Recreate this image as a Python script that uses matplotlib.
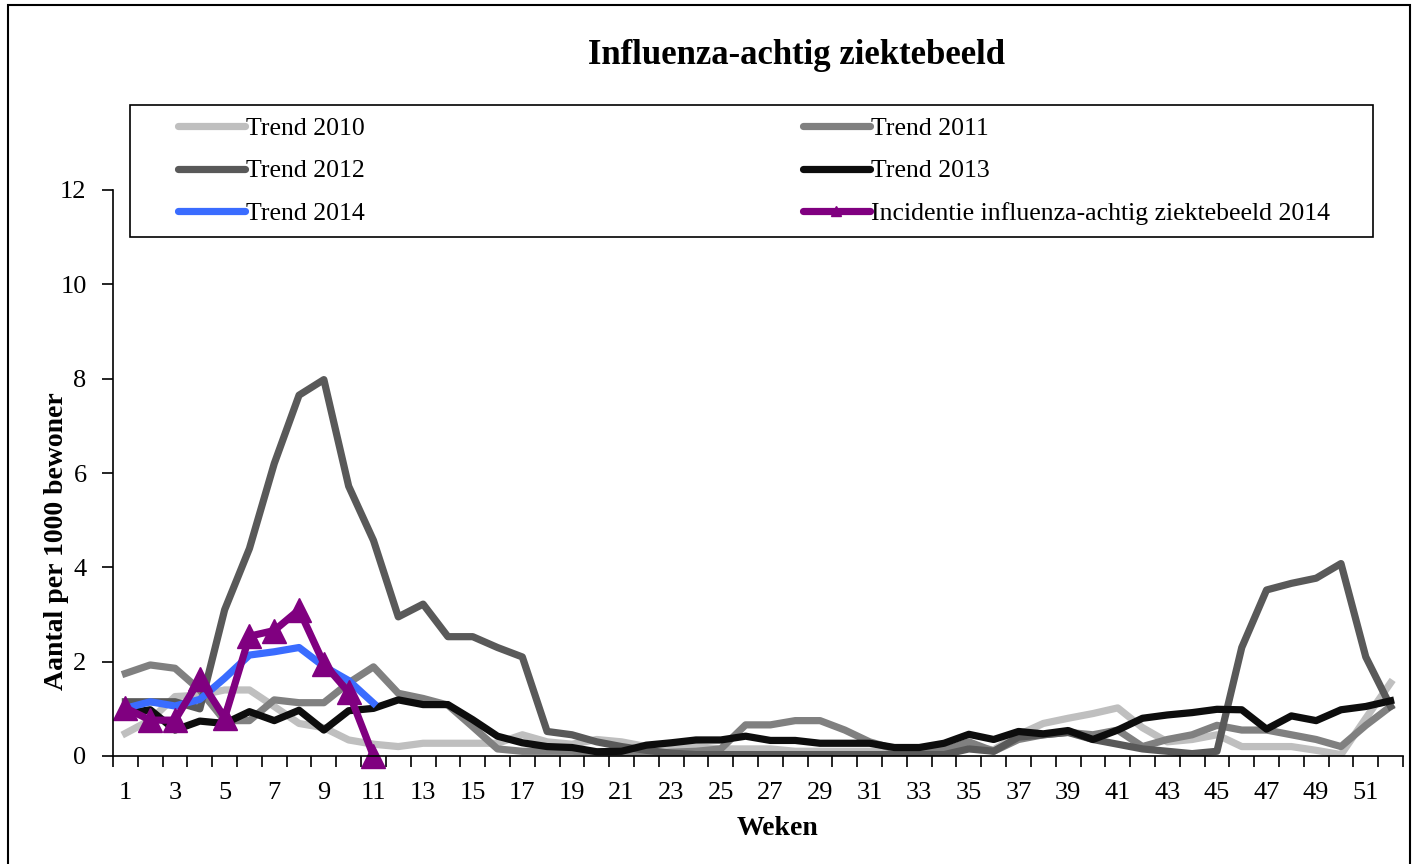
import numpy as np
import matplotlib
matplotlib.use("Agg")
import matplotlib.pyplot as plt
from matplotlib.patches import Rectangle

plt.rcParams['font.family'] = ['Liberation Serif', 'DejaVu Serif']

weeks = list(range(1, 53))

trend_2010 = [0.48, 0.76, 1.26, 1.29, 1.40, 1.40, 1.05, 0.69, 0.60, 0.34,
              0.25, 0.20, 0.27, 0.27, 0.27, 0.27, 0.45, 0.30, 0.25, 0.35,
              0.30, 0.20, 0.20, 0.20, 0.15, 0.15, 0.15, 0.10, 0.10, 0.10,
              0.10, 0.10, 0.10, 0.15, 0.20, 0.13, 0.45, 0.69, 0.80, 0.90,
              1.02, 0.60, 0.30, 0.35, 0.45, 0.20, 0.20, 0.20, 0.12, 0.03,
              0.80, 1.55]
trend_2011 = [1.75, 1.93, 1.86, 1.40, 0.75, 0.75, 1.19, 1.13, 1.13, 1.55,
              1.89, 1.33, 1.22, 1.08, 0.62, 0.15, 0.10, 0.10, 0.10, 0.08,
              0.05, 0.05, 0.08, 0.10, 0.15, 0.66, 0.66, 0.75, 0.75, 0.55,
              0.30, 0.15, 0.12, 0.12, 0.30, 0.10, 0.35, 0.45, 0.50, 0.45,
              0.55, 0.20, 0.35, 0.45, 0.65, 0.55, 0.55, 0.45, 0.35, 0.20,
              0.65, 1.05]
trend_2012 = [1.15, 1.15, 1.15, 1.00, 3.10, 4.40, 6.20, 7.65, 7.98, 5.72,
              4.57, 2.95, 3.22, 2.53, 2.53, 2.30, 2.10, 0.52, 0.45, 0.30,
              0.20, 0.12, 0.06, 0.03, 0.03, 0.03, 0.03, 0.03, 0.03, 0.03,
              0.03, 0.03, 0.03, 0.03, 0.15, 0.10, 0.40, 0.45, 0.50, 0.35,
              0.25, 0.15, 0.10, 0.05, 0.10, 2.30, 3.52, 3.66, 3.77, 4.08,
              2.10, 1.05]
trend_2013 = [0.90, 0.98, 0.55, 0.74, 0.69, 0.94, 0.75, 0.97, 0.55, 0.96,
              1.01, 1.19, 1.09, 1.09, 0.77, 0.42, 0.28, 0.20, 0.18, 0.09,
              0.10, 0.23, 0.28, 0.34, 0.34, 0.42, 0.33, 0.33, 0.27, 0.27,
              0.27, 0.18, 0.18, 0.27, 0.46, 0.35, 0.52, 0.47, 0.54, 0.35,
              0.55, 0.80, 0.87, 0.92, 0.99, 0.98, 0.57, 0.85, 0.75, 0.98,
              1.05, 1.17]
trend_2014 = [1.01, 1.15, 1.06, 1.20, 1.65, 2.14, 2.21, 2.30, 1.90, 1.60, 1.12]
incidentie_2014 = [1.02, 0.76, 0.76, 1.63, 0.81, 2.54, 2.66, 3.10, 1.96, 1.35, 0.0]

fig = plt.figure(figsize=(14.18, 8.64), dpi=100)
ax = fig.add_axes([113/1418, 1-756/864, 1290/1418, 566/864])

lw = 5.2
h10, = ax.plot(weeks, trend_2010, color='#bfbfbf', lw=lw, label='Trend 2010')
h11, = ax.plot(weeks, trend_2011, color='#808080', lw=lw, label='Trend 2011')
h12, = ax.plot(weeks, trend_2012, color='#595959', lw=lw, label='Trend 2012')
h13, = ax.plot(weeks, trend_2013, color='#0d0d0d', lw=lw, label='Trend 2013')
h14, = ax.plot(weeks[:len(trend_2014)], trend_2014, color='#3a6cff', lw=lw,
               label='Trend 2014')
hin, = ax.plot(weeks[:len(incidentie_2014)], incidentie_2014, color='#800080',
               lw=lw, marker='^', markersize=17, markeredgewidth=1,
               label='Incidentie influenza-achtig ziektebeeld 2014', clip_on=False)

ax.set_xlim(0.5, 52.5)
ax.set_ylim(0, 12)
for s in ['top', 'right']:
    ax.spines[s].set_visible(False)
for s in ['left', 'bottom']:
    ax.spines[s].set_linewidth(1.2)

ax.set_xticks(np.arange(0.5, 53, 1))
ax.set_xticklabels([])
ax.set_xticks(weeks[::2], minor=True)
ax.set_xticklabels([str(w) for w in weeks[::2]], minor=True)
ax.tick_params(axis='x', which='major', direction='out', length=8, width=1.2)
ax.tick_params(axis='x', which='minor', length=0, pad=19, labelsize=19)
ax.set_yticks(np.arange(0, 13, 2))
ax.tick_params(axis='y', direction='out', length=8, width=1.2, labelsize=19, pad=11)

ax.set_xlabel('Weken', fontsize=20, fontweight='bold')
ax.xaxis.set_label_coords(0.515, -0.106)
ax.set_ylabel('Aantal per 1000 bewoner', fontsize=20, fontweight='bold')
ax.yaxis.set_label_coords(-0.034, 0.38)

fig.text(797/1418, 1-55/864, 'Influenza-achtig ziektebeeld', fontsize=25,
         fontweight='bold', ha='center', va='center')

# legend box drawn separately, entries placed inside it
fig.patches.append(Rectangle((130/1418, 1-237/864), 1243/1418, 132/864,
                             transform=fig.transFigure, fill=False,
                             edgecolor='black', lw=1.2))
order = [h10, h12, h14, h11, h13, hin]
leg = fig.legend(order, [h.get_label() for h in order],
                 ncol=2, mode='expand', loc='center',
                 bbox_to_anchor=(178/1418, 1-237/864, 1152/1418, 132/864),
                 fontsize=18.5, frameon=False,
                 handlelength=2.6, handletextpad=0.05, labelspacing=0.75,
                 borderpad=0, markerscale=0.45, borderaxespad=0)
for line in leg.get_lines():
    line.set_solid_capstyle('round')

fig.patches.append(Rectangle((8/1418, -0.01), 1402/1418, 1.01-5/864,
                             transform=fig.transFigure, fill=False,
                             edgecolor='black', lw=1.5))

fig.savefig('out.png', dpi=100)
